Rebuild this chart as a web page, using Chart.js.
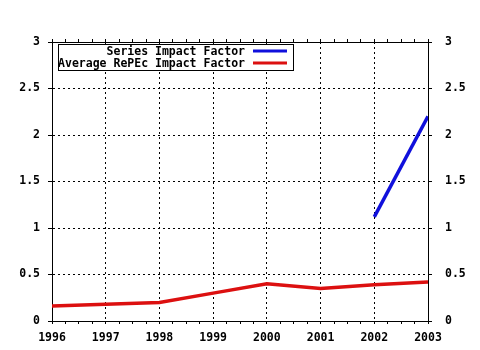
<!DOCTYPE html>
<html>
<head>
<meta charset="utf-8">
<title>Impact Factor</title>
<script src="https://cdn.jsdelivr.net/npm/chart.js@4/dist/chart.umd.min.js"></script>
<style>
  html, body { margin: 0; padding: 0; background: #fff; }
  canvas { display: block; }
</style>
</head>
<body>
<canvas id="chart-impact" width="480" height="350"></canvas>
<script>
'use strict';

/* Yearly values */
const years         = [1996, 1997, 1998, 1999, 2000, 2001, 2002, 2003];
const avgRepecIF    = [0.16, 0.18, 0.20, 0.30, 0.40, 0.35, 0.39, 0.42];
const seriesYears   = [2002, 2003];
const seriesIF      = [1.12, 2.20];
const yTicks        = [0, 0.5, 1, 1.5, 2, 2.5, 3];

const seriesLabel   = 'Series Impact Factor';
const avgLabel      = 'Average RePEc Impact Factor';

const FONT = { family: 'DejaVu Sans Mono', size: 11.5, weight: 'bold' };
const BLUE = '#1010dc';
const RED  = '#dc1010';

const isWhole = v => Math.abs(v - Math.round(v)) < 1e-6;
const pts = (xs, ys) => xs.map((x, i) => ({ x, y: ys[i] }));

/* ─── Boxed legend: right-aligned text, sample line on the right ─── */
const boxLegend = {
  id: 'boxLegend',
  afterDatasetsDraw(chart) {
    const ctx = chart.ctx;
    const x0 = 58, y0 = 44, w = 235, h = 26;
    ctx.save();
    ctx.fillStyle = '#fff';
    ctx.fillRect(x0, y0, w, h);
    ctx.strokeStyle = '#000';
    ctx.lineWidth = 1;
    ctx.strokeRect(x0 + 0.5, y0 + 0.5, w, h);

    ctx.font = 'bold 11.5px "DejaVu Sans Mono"';
    ctx.textAlign = 'right';
    ctx.textBaseline = 'middle';
    chart.data.datasets.forEach((ds, i) => {
      const y = y0 + 7 + i * 12;
      ctx.fillStyle = '#000';
      ctx.fillText(ds.label, 245, y + 1);
      ctx.strokeStyle = ds.borderColor;
      ctx.lineWidth = 3;
      ctx.beginPath();
      ctx.moveTo(253, y);
      ctx.lineTo(287, y);
      ctx.stroke();
    });
    ctx.restore();
  }
};

function xAxis(position, showLabels, height) {
  return {
    type: 'linear', position, min: years[0], max: years[years.length - 1],
    afterFit: s => { s.height = height; },
    ticks: {
      display: showLabels, stepSize: 0.25, autoSkip: false, maxRotation: 0,
      color: '#000', font: FONT, padding: 7,
      callback: v => isWhole(v) ? String(Math.round(v)) : ''
    },
    grid: {
      drawOnChartArea: position === 'bottom',
      color: c => (c.tick && isWhole(c.tick.value)) ? '#000' : 'rgba(0,0,0,0)',
      tickColor: '#000', tickLength: 3, tickBorderDash: []
    },
    border: { color: '#000', width: 1, dash: [2, 3] }
  };
}

function yAxis(position, padding) {
  return {
    type: 'linear', position, min: yTicks[0], max: yTicks[yTicks.length - 1],
    afterFit: s => { s.width = 52; },
    afterBuildTicks: s => { s.ticks = yTicks.map(value => ({ value })); },
    ticks: { color: '#000', font: FONT, padding, callback: v => String(v) },
    grid: {
      drawOnChartArea: position === 'left',
      color: '#000', tickColor: '#000', tickLength: 4, tickBorderDash: []
    },
    border: { color: '#000', width: 1, dash: [2, 3] }
  };
}

new Chart(document.getElementById('chart-impact'), {
  type: 'line',
  data: {
    datasets: [{
      label: seriesLabel,
      data: pts(seriesYears, seriesIF),
      borderColor: BLUE, borderWidth: 3.5,
      pointRadius: 0, tension: 0, xAxisID: 'x', yAxisID: 'y'
    }, {
      label: avgLabel,
      data: pts(years, avgRepecIF),
      borderColor: RED, borderWidth: 3.5,
      pointRadius: 0, tension: 0, xAxisID: 'x', yAxisID: 'y'
    }]
  },
  options: {
    responsive: false,
    animation: false,
    layout: { padding: 0 },
    plugins: { legend: { display: false }, tooltip: { enabled: false } },
    scales: {
      x : xAxis('bottom', true, 29),
      x2: xAxis('top', false, 42),
      y : yAxis('left', 8),
      y2: yAxis('right', 13)
    }
  },
  plugins: [boxLegend]
});
</script>
</body>
</html>
